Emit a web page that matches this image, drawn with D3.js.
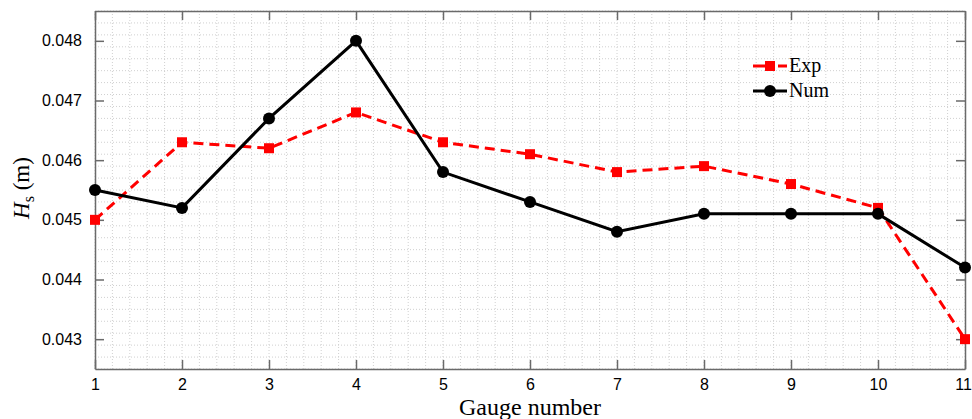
<!DOCTYPE html>
<html>
<head>
  <meta charset="utf-8">
  <title>Hs per gauge</title>
  <script src="https://cdn.jsdelivr.net/npm/d3@7"></script>
  <style type="text/css">
    body { margin: 0; background: #fff; }
  </style>
</head>
<body>
<script>

var width = 972;
var height = 419;
var margin = {top: 11, right: 7, bottom: 50, left: 95};

// data
var gauges = [1, 2, 3, 4, 5, 6, 7, 8, 9, 10, 11];
var expHs = [0.0450, 0.0463, 0.0462, 0.0468, 0.0463, 0.0461, 0.0458, 0.0459, 0.0456, 0.0452, 0.0430];
var numHs = [0.0455, 0.0452, 0.0467, 0.0480, 0.0458, 0.0453, 0.0448, 0.0451, 0.0451, 0.0451, 0.0442];
var yTicks = [0.043, 0.044, 0.045, 0.046, 0.047, 0.048];
var seriesNames = ["Exp", "Num"];

var w = width - margin.left - margin.right;
var h = height - margin.top - margin.bottom;
var serif = "'Liberation Serif', 'Times New Roman', serif";

var svg = d3.select("body").append("svg").attr("width", width).attr("height", height);
var g = svg.append("g").attr("transform", "translate(" + margin.left + "," + margin.top + ")");

var x = d3.scaleLinear().domain([1, 11]).range([0, w]);
var y = d3.scaleLinear().domain([0.0425, 0.0485]).range([h, 0]);

//minor + major grid, all dotted
var xGrid = d3.range(1, 11.0001, 0.2);
var yGrid = d3.range(0.0425, 0.04850001, 0.0002);

g.append("g").selectAll("line").data(xGrid).enter().append("line")
  .attr("x1", function(d){ return x(d); }).attr("x2", function(d){ return x(d); })
  .attr("y1", 0).attr("y2", h)
  .attr("stroke", "#d0d0d0").attr("stroke-width", 1).attr("stroke-dasharray", "1,2");

g.append("g").selectAll("line").data(yGrid).enter().append("line")
  .attr("y1", function(d){ return y(d); }).attr("y2", function(d){ return y(d); })
  .attr("x1", 0).attr("x2", w)
  .attr("stroke", "#d0d0d0").attr("stroke-width", 1).attr("stroke-dasharray", "1,2");

// axes, ticks inward
var axColor = "#6a6a6a";
var xAxis = g.append("g").attr("transform", "translate(0," + h + ")")
  .call(d3.axisBottom(x).tickValues(gauges).tickFormat(d3.format("d")).tickSizeInner(-9).tickSizeOuter(0).tickPadding(10));
var xTop = g.append("g")
  .call(d3.axisTop(x).tickValues(gauges).tickFormat("").tickSizeInner(-9).tickSizeOuter(0));
var yAxis = g.append("g")
  .call(d3.axisLeft(y).tickValues(yTicks).tickFormat(d3.format(".3f")).tickSizeInner(-9).tickSizeOuter(0).tickPadding(13));
var yRight = g.append("g").attr("transform", "translate(" + w + ",0)")
  .call(d3.axisRight(y).tickValues(yTicks).tickFormat("").tickSizeInner(-9).tickSizeOuter(0));

[xAxis, xTop, yAxis, yRight].forEach(function(a){
  a.attr("font-size", 16).attr("font-family", "'Liberation Sans', Arial, sans-serif");
  a.selectAll("path").attr("stroke", axColor).attr("stroke-width", 1.5);
  a.selectAll(".tick line").attr("stroke", axColor).attr("stroke-width", 1.5);
  a.selectAll(".tick text").attr("fill", "#000");
});
// keep the last label inside the window
xAxis.selectAll(".tick text").filter(function(d){ return d === 11; }).attr("dx", -2);

var line = d3.line()
  .x(function(d, i){ return x(gauges[i]); })
  .y(function(d){ return y(d); });

// Exp series
g.append("path").datum(expHs).attr("d", line)
  .attr("fill", "none").attr("stroke", "#ff0000").attr("stroke-width", 3)
  .attr("stroke-dasharray", "10,6");
g.append("g").selectAll("rect").data(expHs).enter().append("rect")
  .attr("x", function(d, i){ return x(gauges[i]) - 5; })
  .attr("y", function(d){ return y(d) - 5; })
  .attr("width", 10).attr("height", 10).attr("fill", "#ff0000");

// Num series
g.append("path").datum(numHs).attr("d", line)
  .attr("fill", "none").attr("stroke", "#000").attr("stroke-width", 3);
g.append("g").selectAll("circle").data(numHs).enter().append("circle")
  .attr("cx", function(d, i){ return x(gauges[i]); })
  .attr("cy", function(d){ return y(d); })
  .attr("r", 6).attr("fill", "#000");

// legend
var leg = svg.append("g").attr("transform", "translate(753,66)");
leg.append("line").attr("x1", 0).attr("x2", 34).attr("y1", 0).attr("y2", 0)
  .attr("stroke", "#ff0000").attr("stroke-width", 3).attr("stroke-dasharray", "21,4,9");
leg.append("rect").attr("x", 12).attr("y", -5).attr("width", 10).attr("height", 10).attr("fill", "#ff0000");
leg.append("line").attr("x1", 0).attr("x2", 34).attr("y1", 25).attr("y2", 25)
  .attr("stroke", "#000").attr("stroke-width", 3);
leg.append("circle").attr("cx", 17).attr("cy", 25).attr("r", 6).attr("fill", "#000");
leg.selectAll("text").data(seriesNames).enter().append("text")
  .attr("x", 36).attr("y", function(d, i){ return i * 25 + 6; })
  .style("font-family", serif).style("font-size", "20px")
  .text(function(d){ return d; });

// axis labels
svg.append("text")
  .attr("x", margin.left + w / 2).attr("y", 415)
  .attr("text-anchor", "middle")
  .style("font-family", serif).style("font-size", "24px")
  .text("Gauge number");

var yl = svg.append("text")
  .attr("transform", "translate(29,188) rotate(-90)")
  .attr("text-anchor", "middle")
  .style("font-family", serif).style("font-size", "23px");
yl.append("tspan").style("font-style", "italic").text("H");
yl.append("tspan").attr("dy", 5).style("font-size", "16px").text("s");
yl.append("tspan").attr("dy", -5).text(" (m)");

</script>
</body>
</html>
